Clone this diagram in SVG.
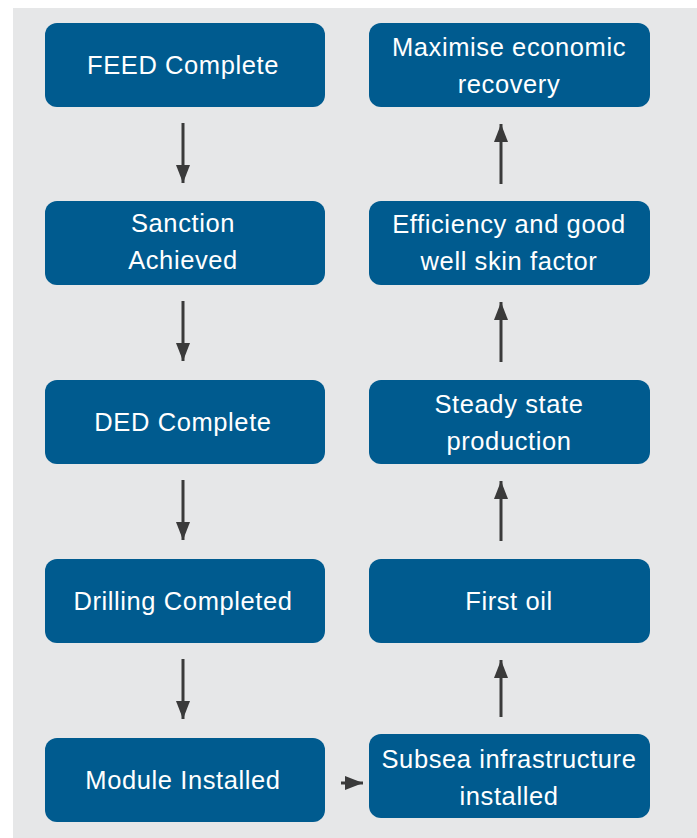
<svg xmlns="http://www.w3.org/2000/svg" width="697" height="838" viewBox="0 0 697 838">
<defs>
<style>
.box{fill:#005B8F;}
.t{fill:#FFFFFF;font-family:"Liberation Sans",Arial,Helvetica,sans-serif;font-size:25.5px;letter-spacing:0.6px;text-anchor:middle;}
.c{stroke:#3A3A3A;stroke-width:3;fill:none;}
</style>
<marker id="ah" markerUnits="userSpaceOnUse" markerWidth="18" markerHeight="14" refX="18" refY="7" orient="auto">
<path d="M0,0 L18,7 L0,14 Z" fill="#3A3A3A"/>
</marker>
</defs>
<rect x="13" y="8" width="684" height="830" fill="#E6E7E8"/>
<g id="connectors">
<line class="c" x1="183" y1="123" x2="183" y2="183" marker-end="url(#ah)"/>
<line class="c" x1="183" y1="301" x2="183" y2="361" marker-end="url(#ah)"/>
<line class="c" x1="183" y1="480" x2="183" y2="540" marker-end="url(#ah)"/>
<line class="c" x1="183" y1="659" x2="183" y2="719" marker-end="url(#ah)"/>
<line class="c" x1="341" y1="783" x2="363" y2="783" marker-end="url(#ah)"/>
<line class="c" x1="501" y1="717" x2="501" y2="660" marker-end="url(#ah)"/>
<line class="c" x1="501" y1="541" x2="501" y2="481" marker-end="url(#ah)"/>
<line class="c" x1="501" y1="362" x2="501" y2="302" marker-end="url(#ah)"/>
<line class="c" x1="501" y1="184" x2="501" y2="124" marker-end="url(#ah)"/>
</g>
<g id="feed"><rect class="box" x="45" y="23" width="280" height="84" rx="12"/><text class="t" x="183" y="74">FEED Complete</text></g>
<g id="sanction"><rect class="box" x="45" y="201" width="280" height="84" rx="12"/><text class="t" x="183" y="232">Sanction</text><text class="t" x="183" y="269">Achieved</text></g>
<g id="ded"><rect class="box" x="45" y="380" width="280" height="84" rx="12"/><text class="t" x="183" y="431">DED Complete</text></g>
<g id="drilling"><rect class="box" x="45" y="559" width="280" height="84" rx="12"/><text class="t" x="183" y="610">Drilling Completed</text></g>
<g id="module"><rect class="box" x="45" y="738" width="280" height="84" rx="12"/><text class="t" x="183" y="789">Module Installed</text></g>
<g id="subsea"><rect class="box" x="369" y="734" width="281" height="84" rx="12"/><text class="t" x="509" y="768">Subsea infrastructure</text><text class="t" x="509" y="805">installed</text></g>
<g id="firstoil"><rect class="box" x="369" y="559" width="281" height="84" rx="12"/><text class="t" x="509" y="610">First oil</text></g>
<g id="steady"><rect class="box" x="369" y="380" width="281" height="84" rx="12"/><text class="t" x="509" y="413">Steady state</text><text class="t" x="509" y="450">production</text></g>
<g id="efficiency"><rect class="box" x="369" y="201" width="281" height="84" rx="12"/><text class="t" x="509" y="233">Efficiency and good</text><text class="t" x="509" y="270">well skin factor</text></g>
<g id="maximise"><rect class="box" x="369" y="23" width="281" height="84" rx="12"/><text class="t" x="509" y="56">Maximise economic</text><text class="t" x="509" y="93">recovery</text></g>
</svg>
